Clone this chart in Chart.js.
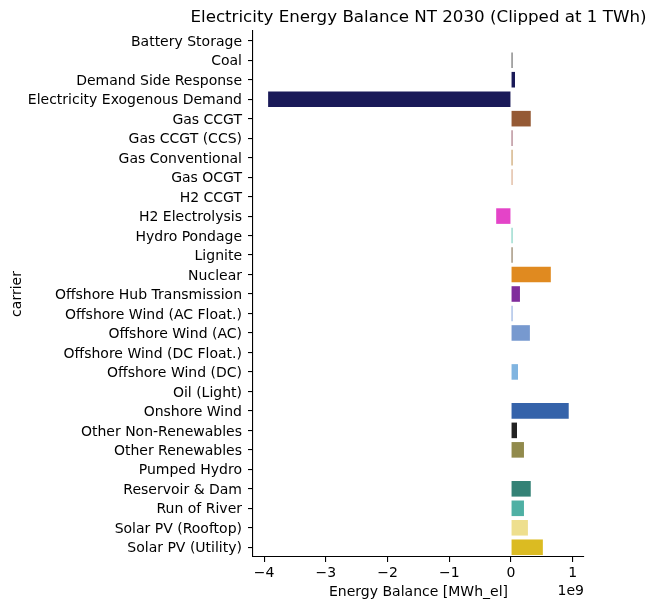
<!DOCTYPE html>
<html>
<head>
<meta charset="utf-8">
<script src="https://cdn.jsdelivr.net/npm/chart.js@4/dist/chart.umd.min.js"></script>
<style>
  html, body { margin: 0; padding: 0; background: #fff; }
  #wrap { width: 655px; height: 610px; }
</style>
</head>
<body>
<div id="wrap"><canvas id="myChart" width="655" height="610"></canvas></div>
<script>
var chartTitle = 'Electricity Energy Balance NT 2030 (Clipped at 1 TWh)';

var carriers = [
  'Battery Storage', 'Coal', 'Demand Side Response', 'Electricity Exogenous Demand',
  'Gas CCGT', 'Gas CCGT (CCS)', 'Gas Conventional', 'Gas OCGT', 'H2 CCGT',
  'H2 Electrolysis', 'Hydro Pondage', 'Lignite', 'Nuclear', 'Offshore Hub Transmission',
  'Offshore Wind (AC Float.)', 'Offshore Wind (AC)', 'Offshore Wind (DC Float.)',
  'Offshore Wind (DC)', 'Oil (Light)', 'Onshore Wind', 'Other Non-Renewables',
  'Other Renewables', 'Pumped Hydro', 'Reservoir & Dam', 'Run of River',
  'Solar PV (Rooftop)', 'Solar PV (Utility)'
];

// energy balance in MWh_el
var balance = [
  0, 0.025e9, 0.065e9, -3.935e9,
  0.32e9, 0.025e9, 0.025e9, 0.025e9, 0,
  -0.24e9, 0.025e9, 0.025e9, 0.645e9, 0.145e9,
  0.025e9, 0.306e9, 0,
  0.113e9, 0, 0.935e9, 0.097e9,
  0.21e9, 0, 0.32e9, 0.21e9,
  0.274e9, 0.516e9
];

var barColors = [
  '#b0b0b0', '#545454', '#1a1a58', '#1a1a58',
  '#955a35', '#9a5e6c', '#c0904e', '#d4a07c', '#888888',
  '#e444c8', '#6ccab8', '#7a6444', '#e08a20', '#802d9c',
  '#84a4dc', '#7799cf', '#9ab8e0',
  '#80b4e0', '#999999', '#3563aa', '#222222',
  '#918a4c', '#5a7ab0', '#348276', '#4fb0a4',
  '#eedf8e', '#dbbb22'
];

var xTicks = [-4, -3, -2, -1, 0, 1];

var font = "'DejaVu Sans', sans-serif";

// title centred over the plot area, plus the "1e9" offset label
var extraText = {
  id: 'extraText',
  afterDraw: function(chart) {
    var ctx = chart.ctx;
    var area = chart.chartArea;
    ctx.save();
    ctx.fillStyle = '#000';
    ctx.textBaseline = 'middle';
    ctx.font = '16.7px ' + font;
    ctx.textAlign = 'center';
    ctx.fillText(chartTitle, (area.left + area.right) / 2, 18);
    ctx.font = '14px ' + font;
    ctx.textAlign = 'right';
    ctx.fillText('1e9', area.right, 591);
    ctx.restore();
  }
};

var ctx = document.getElementById('myChart');
var chart = new Chart(ctx, {
  type: 'bar',
  data: {
    labels: carriers,
    datasets: [{
      label: 'Energy Balance',
      data: balance,
      backgroundColor: barColors,
      borderWidth: 0,
      inflateAmount: 0,
      categoryPercentage: 0.8,
      barPercentage: 1.0
    }]
  },
  plugins: [extraText],
  options: {
    indexAxis: 'y',
    responsive: false,
    animation: false,
    layout: { padding: { left: 0, right: 71, top: 31, bottom: 0 } },
    plugins: {
      legend: { display: false },
      tooltip: { enabled: false },
      title: { display: false }
    },
    scales: {
      x: {
        type: 'linear',
        min: -4.18e9,
        max: 1.1827e9,
        afterFit: function(scale) { scale.height = 53; },
        afterBuildTicks: function(scale) {
          scale.ticks = xTicks.map(function(v) { return { value: v * 1e9 }; });
        },
        ticks: {
          color: '#000',
          font: { family: font, size: 14 },
          padding: 3,
          maxRotation: 0,
          callback: function(v) {
            var n = Math.round(v / 1e9);
            return n < 0 ? '\u2212' + Math.abs(n) : String(n);
          }
        },
        grid: {
          display: true,
          drawOnChartArea: false,
          drawTicks: true,
          tickLength: 5,
          tickColor: '#000',
          lineWidth: 1.1
        },
        border: { display: true, color: '#000', width: 1.1 },
        title: {
          display: true,
          text: 'Energy Balance [MWh_el]',
          color: '#000',
          font: { family: font, size: 14 },
          padding: { top: 0, bottom: 9 }
        }
      },
      y: {
        afterFit: function(scale) { scale.width = 253; },
        ticks: {
          color: '#000',
          font: { family: font, size: 14 },
          padding: 6,
          labelOffset: 1.5,
          autoSkip: false
        },
        grid: {
          display: true,
          offset: false,
          drawOnChartArea: false,
          drawTicks: true,
          tickLength: 5,
          tickColor: '#000',
          lineWidth: 1.1
        },
        border: { display: true, color: '#000', width: 1.1 },
        title: {
          display: true,
          text: 'carrier',
          color: '#000',
          font: { family: font, size: 14 },
          padding: { top: 9, bottom: 0 }
        }
      }
    }
  }
});
</script>
</body>
</html>
